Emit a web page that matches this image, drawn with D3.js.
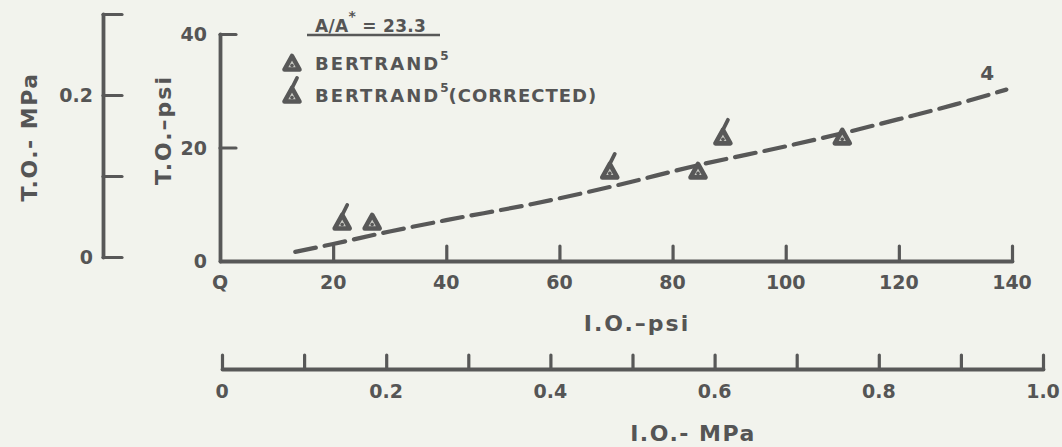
<!DOCTYPE html>
<html><head><meta charset="utf-8">
<script src="https://cdn.jsdelivr.net/npm/d3@7"></script>
<style>
html,body{margin:0;padding:0;background:#f2f3ed;}
svg{display:block;}
text{font-family:"DejaVu Sans",sans-serif;font-weight:bold;fill:#555555;}
</style></head>
<body>
<svg id="c" width="1062" height="447"></svg>
<script>
// ---- data ----
const uncorrX = [26.9, 84.5, 110.0];
const uncorrY = [6.7, 15.7, 21.7];
const corrX = [21.6, 68.9, 88.9];
const corrY = [6.7, 15.7, 21.7];
const lineX = [13.3, 20, 30, 40, 55, 70, 85, 100, 110, 120, 130, 139];
const lineY = [1.6, 3.0, 5.2, 7.2, 10.0, 13.3, 17.0, 20.2, 22.5, 25.0, 27.6, 30.2];
const xPsiTicks = [0, 20, 40, 60, 80, 100, 120, 140];
const xPsiLabels = ["Q", "20", "40", "60", "80", "100", "120", "140"];
const yPsiTicks = [0, 20, 40];
const yPsiLabels = ["0", "20", "40"];
const xMPaTicks = [0, 0.1, 0.2, 0.3, 0.4, 0.5, 0.6, 0.7, 0.8, 0.9, 1.0];
const xMPaLabels = ["0", "0.2", "0.4", "0.6", "0.8", "1.0"];
const xMPaLabelVals = [0, 0.2, 0.4, 0.6, 0.8, 1.0];
const yMPaTicks = [0, 0.1, 0.2, 0.3];
const yMPaLabelVals = [0, 0.2];
const yMPaLabels = ["0", "0.2"];
const curveLabel = {x: 135.6, y: 33.1, text: "4"};

// ---- scales ----
const x = d3.scaleLinear().domain([0, 140]).range([220, 1012]);
const y = d3.scaleLinear().domain([0, 40]).range([261, 34]);
const xM = d3.scaleLinear().domain([0, 1]).range([222, 1043]);
const yM = d3.scaleLinear().domain([0, 0.3]).range([257, 14]);

const svg = d3.select("#c");
const ink = "#585858";
const sw = 3.8;

function styleAxis(g){
  g.select(".domain").attr("stroke", ink).attr("stroke-width", sw).attr("stroke-linecap","round");
  g.selectAll(".tick line").attr("stroke", ink).attr("stroke-width", 3.2).attr("stroke-linecap","round");
  g.selectAll(".tick text").remove();
}

// main x axis (psi), ticks inward (up)
const gx = svg.append("g").attr("transform", `translate(0,${y(0)})`)
  .call(d3.axisTop(x).tickValues(xPsiTicks.slice(1)).tickSize(15).tickSizeOuter(0));
styleAxis(gx);
svg.append("g").selectAll("text").data(xPsiTicks).join("text")
  .attr("x", d => x(d)).attr("y", 282).attr("text-anchor","middle")
  .attr("dominant-baseline","central").attr("font-size", 19)
  .text((d,i) => xPsiLabels[i]);

// main y axis (psi), ticks inward (right)
const gy = svg.append("g").attr("transform", `translate(${x(0)},0)`)
  .call(d3.axisRight(y).tickValues(yPsiTicks.slice(1)).tickSize(16).tickSizeOuter(0));
styleAxis(gy);
svg.append("g").selectAll("text").data(yPsiTicks).join("text")
  .attr("x", 207).attr("y", d => y(d)).attr("text-anchor","end")
  .attr("dominant-baseline","central").attr("font-size", 19)
  .text((d,i) => yPsiLabels[i]);

// bottom MPa axis
const gxm = svg.append("g").attr("transform", "translate(0,369)")
  .call(d3.axisTop(xM).tickValues(xMPaTicks).tickSize(14).tickSizeOuter(0));
styleAxis(gxm);
svg.append("g").selectAll("text").data(xMPaLabelVals).join("text")
  .attr("x", d => xM(d)).attr("y", 391).attr("text-anchor","middle")
  .attr("dominant-baseline","central").attr("font-size", 19)
  .text((d,i) => xMPaLabels[i]);

// left MPa axis
const gym = svg.append("g").attr("transform", "translate(103,0)")
  .call(d3.axisRight(yM).tickValues(yMPaTicks).tickSize(19).tickSizeOuter(0));
styleAxis(gym);
svg.append("g").selectAll("text").data(yMPaLabelVals).join("text")
  .attr("x", 93).attr("y", d => yM(d)).attr("text-anchor","end")
  .attr("dominant-baseline","central").attr("font-size", 19)
  .text((d,i) => yMPaLabels[i]);

// axis titles
svg.append("text").attr("transform","translate(163,130) rotate(-90)")
  .attr("text-anchor","middle").attr("dominant-baseline","central")
  .attr("font-size", 22).attr("letter-spacing", 2).text("T.O.–psi");
svg.append("text").attr("transform","translate(29,137) rotate(-90)")
  .attr("text-anchor","middle").attr("dominant-baseline","central")
  .attr("font-size", 22).attr("letter-spacing", 1.5).text("T.O.- MPa");
svg.append("text").attr("x", 637).attr("y", 323)
  .attr("text-anchor","middle").attr("dominant-baseline","central")
  .attr("font-size", 22).attr("letter-spacing", 2).text("I.O.–psi");
svg.append("text").attr("x", 693).attr("y", 433)
  .attr("text-anchor","middle").attr("dominant-baseline","central")
  .attr("font-size", 22).attr("letter-spacing", 1.5).text("I.O.- MPa");

// dashed curve
const lineData = lineX.map((v,i) => [v, lineY[i]]);
svg.append("path").datum(lineData)
  .attr("d", d3.line().x(d => x(d[0])).y(d => y(d[1])).curve(d3.curveMonotoneX))
  .attr("fill","none").attr("stroke", ink).attr("stroke-width", 4.2)
  .attr("stroke-dasharray","21 9").attr("stroke-linecap","round");

// markers
const triPath = "M0,-8 L7.5,5.5 L-7.5,5.5 Z";
const flagPath = "M0,-8 L5,-18";
function marker(g, cx, cy, flag){
  const m = g.append("g").attr("transform", `translate(${cx},${cy})`);
  m.append("path").attr("d", triPath).attr("fill", "#c9cac4")
    .attr("stroke", ink).attr("stroke-width", 4.6).attr("stroke-linejoin","round");
  m.append("circle").attr("cx",0).attr("cy",1.5).attr("r",1.8).attr("fill",ink);
  if (flag) m.append("path").attr("d", flagPath).attr("fill","none")
    .attr("stroke", ink).attr("stroke-width", 3.8).attr("stroke-linecap","round");
}
const gm = svg.append("g");
uncorrX.forEach((v,i) => marker(gm, x(v), y(uncorrY[i]), false));
corrX.forEach((v,i) => marker(gm, x(v), y(corrY[i]), true));

// curve label
svg.append("text").attr("x", x(curveLabel.x)).attr("y", y(curveLabel.y))
  .attr("text-anchor","middle").attr("dominant-baseline","central")
  .attr("font-size", 20).text(curveLabel.text);

// legend
const lg = svg.append("g");
const t0 = lg.append("text").attr("x", 315).attr("y", 26).attr("dominant-baseline","central")
  .attr("font-size", 17).attr("letter-spacing", 0.3);
t0.append("tspan").text("A/A");
t0.append("tspan").attr("dy", -10).attr("font-size", 14).text("*");
t0.append("tspan").attr("dy", 10).text(" = 23.3");
lg.append("line").attr("x1", 307).attr("x2", 440).attr("y1", 35).attr("y2", 35)
  .attr("stroke", ink).attr("stroke-width", 2.5);
marker(lg, 292, 64, false);
marker(lg, 292, 96, true);
const t1 = lg.append("text").attr("x", 315).attr("y", 63).attr("dominant-baseline","central")
  .attr("font-size", 18).attr("letter-spacing", 2);
t1.append("tspan").text("BERTRAND");
t1.append("tspan").attr("dy", -7).attr("font-size", 12).attr("letter-spacing", 0).text("5");
const t2 = lg.append("text").attr("x", 315).attr("y", 95).attr("dominant-baseline","central")
  .attr("font-size", 18).attr("letter-spacing", 2);
t2.append("tspan").text("BERTRAND");
t2.append("tspan").attr("dy", -7).attr("font-size", 12).attr("letter-spacing", 0).text("5");
t2.append("tspan").attr("dy", 7).attr("letter-spacing", 1).text("(CORRECTED)");
</script>
</body></html>
